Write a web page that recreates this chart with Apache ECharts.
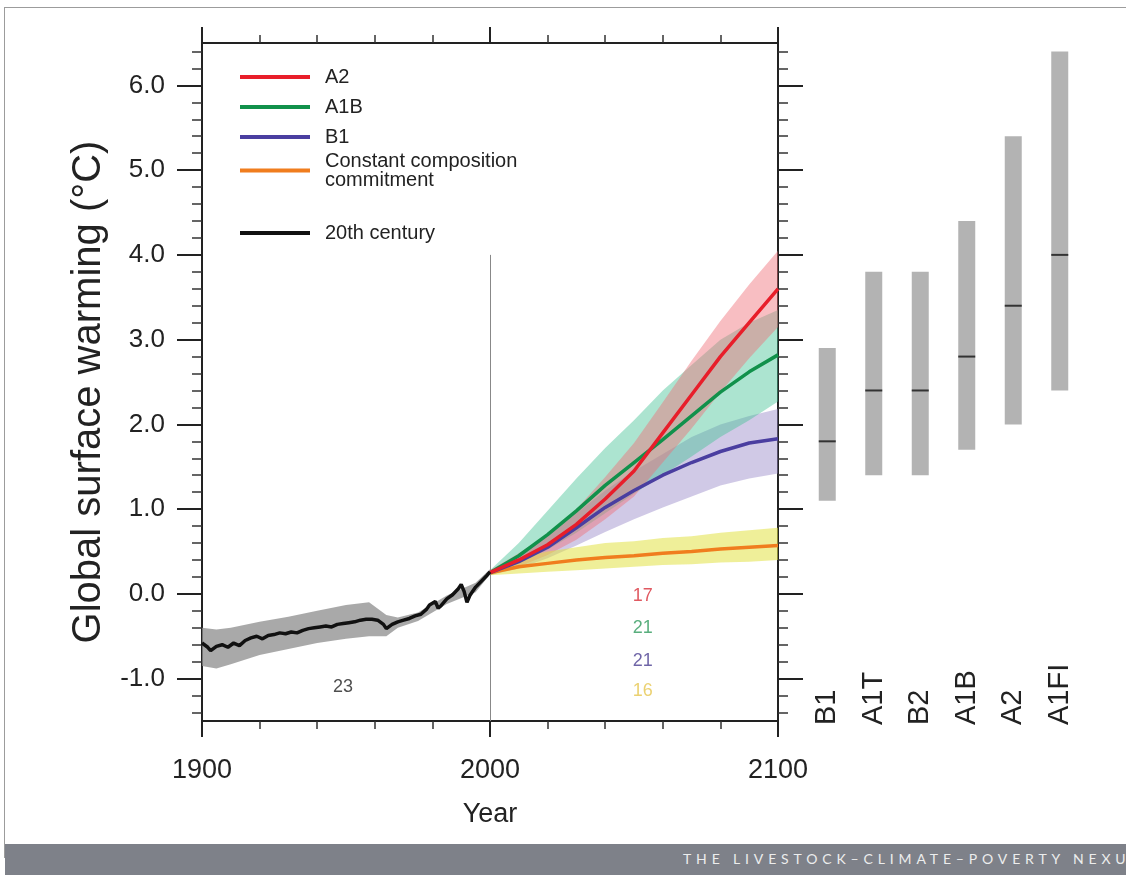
<!DOCTYPE html>
<html>
<head>
<meta charset="utf-8">
<title>Global surface warming</title>
<script src="https://cdn.jsdelivr.net/npm/echarts@6/dist/echarts.min.js"></script>
<style>
  html, body { margin: 0; padding: 0; background: #fff; }
  #page { position: relative; width: 1126px; height: 875px; overflow: hidden; }
  #frame { position: absolute; left: 4px; top: 7px; width: 1140px; height: 850px; border-left: 1px solid #9c9c9c; border-top: 1px solid #9c9c9c; }
  #main { position: absolute; left: 0; top: 0; width: 1126px; height: 875px; }
  #banner { position: absolute; left: 5px; top: 844px; width: 1121px; height: 31px; background: #7e8189; color: #eceded; font: 14px Lato, sans-serif; letter-spacing: 4.85px; white-space: nowrap; overflow: hidden; }
  #banner span { position: absolute; left: 678px; top: 6px; }
</style>
</head>
<body>
<div id="page">
  <div id="frame"></div>
  <div id="banner"><span>THE LIVESTOCK–CLIMATE–POVERTY NEXUS</span></div>
  <div id="main"></div>
</div>
<script>
// 20th century (observed-model) warming
const histYears = [1900, 1902, 1903, 1905, 1907, 1909, 1911, 1913, 1915, 1917, 1919, 1921, 1923, 1925, 1927, 1929,
  1931, 1933, 1935, 1937, 1939, 1941, 1943, 1945, 1947, 1949, 1951, 1953, 1955, 1957, 1959, 1961, 1963, 1964,
  1966, 1968, 1970, 1972, 1974, 1976, 1978, 1979, 1981, 1982, 1983, 1985, 1987, 1989, 1990, 1991, 1992, 1993,
  1995, 1997, 1999, 2000];
const histValues = [-0.58, -0.63, -0.67, -0.62, -0.60, -0.63, -0.58, -0.61, -0.55, -0.52, -0.50, -0.53, -0.49, -0.48, -0.46, -0.47,
  -0.45, -0.46, -0.43, -0.41, -0.40, -0.39, -0.38, -0.39, -0.36, -0.35, -0.34, -0.33, -0.31, -0.30, -0.30, -0.31, -0.36, -0.41,
  -0.36, -0.33, -0.31, -0.29, -0.26, -0.24, -0.18, -0.13, -0.09, -0.17, -0.14, -0.06, -0.01, 0.06, 0.11, 0.03, -0.10, -0.02,
  0.08, 0.15, 0.22, 0.26];
const histBandYears = [1900, 1905, 1910, 1920, 1930, 1940, 1950, 1958, 1964, 1968, 1975, 1985, 1995, 2000];
const histBandLow = [-0.85, -0.88, -0.83, -0.72, -0.65, -0.58, -0.53, -0.50, -0.50, -0.40, -0.32, -0.12, 0.02, 0.23];
const histBandHigh = [-0.40, -0.42, -0.40, -0.33, -0.27, -0.20, -0.13, -0.10, -0.25, -0.28, -0.22, -0.02, 0.13, 0.29];

// projections 2000-2100
const projYears = [2000, 2010, 2020, 2030, 2040, 2050, 2060, 2070, 2080, 2090, 2100];
const a2Mean = [0.25, 0.40, 0.58, 0.82, 1.12, 1.45, 1.90, 2.35, 2.80, 3.20, 3.60];
const a2Low = [0.22, 0.32, 0.46, 0.64, 0.88, 1.15, 1.55, 1.95, 2.38, 2.78, 3.15];
const a2High = [0.28, 0.48, 0.70, 1.00, 1.38, 1.78, 2.26, 2.75, 3.22, 3.65, 4.05];
const a1bMean = [0.25, 0.45, 0.70, 0.98, 1.28, 1.55, 1.82, 2.10, 2.38, 2.62, 2.82];
const a1bLow = [0.22, 0.36, 0.52, 0.72, 0.95, 1.18, 1.40, 1.62, 1.85, 2.05, 2.27];
const a1bHigh = [0.28, 0.60, 0.98, 1.36, 1.72, 2.05, 2.40, 2.70, 3.00, 3.20, 3.35];
const b1Mean = [0.25, 0.38, 0.55, 0.78, 1.02, 1.22, 1.40, 1.55, 1.68, 1.78, 1.83];
const b1Low = [0.22, 0.30, 0.42, 0.57, 0.73, 0.88, 1.02, 1.15, 1.28, 1.36, 1.42];
const b1High = [0.28, 0.46, 0.68, 0.95, 1.22, 1.45, 1.65, 1.85, 2.00, 2.10, 2.18];
const ccMean = [0.25, 0.32, 0.36, 0.40, 0.43, 0.45, 0.48, 0.50, 0.53, 0.55, 0.57];
const ccLow = [0.22, 0.24, 0.26, 0.28, 0.30, 0.32, 0.34, 0.35, 0.37, 0.38, 0.40];
const ccHigh = [0.28, 0.42, 0.50, 0.55, 0.60, 0.62, 0.66, 0.68, 0.72, 0.75, 0.78];

// likely ranges at 2090-2099 per scenario
const scenarios = ['B1', 'A1T', 'B2', 'A1B', 'A2', 'A1FI'];
const rangeLow = [1.1, 1.4, 1.4, 1.7, 2.0, 2.4];
const rangeHigh = [2.9, 3.8, 3.8, 4.4, 5.4, 6.4];
const rangeBest = [1.8, 2.4, 2.4, 2.8, 3.4, 4.0];

// model counts
const noteLabels = ['23', '17', '21', '21', '16'];
const noteYears = [1949, 2053, 2053, 2053, 2053];
const noteValues = [-1.10, -0.02, -0.40, -0.79, -1.15];

const yMajorTicks = [-1, 0, 1, 2, 3, 4, 5, 6];
const yMinorTicks = [];
for (let t = -14; t <= 64; t += 2) {
  if (t % 10 !== 0) yMinorTicks.push(t / 10);
}

const FONT = "'Liberation Sans', Arial, sans-serif";
const INK = '#222';
const CC = 'Constant composition commitment';
const noteColors = ['#222', '#d8303a', '#2f9a5c', '#4b3f91', '#e6c64e'];

const chart = echarts.init(document.getElementById('main'));

function pairs(xs, ys) {
  return xs.map((x, i) => [x, ys[i]]);
}

function band(name, xs, low, high, color, z) {
  return {
    name,
    type: 'custom',
    xAxisIndex: 0,
    yAxisIndex: 0,
    silent: true,
    z,
    data: [[xs[0], low[0]]],
    renderItem(params, api) {
      const pts = xs.map((x, i) => api.coord([x, high[i]]));
      for (let i = xs.length - 1; i >= 0; i--) pts.push(api.coord([xs[i], low[i]]));
      return { type: 'polygon', shape: { points: pts }, style: { fill: color } };
    }
  };
}

function line(name, xs, ys, color, z) {
  return {
    name,
    type: 'line',
    xAxisIndex: 0,
    yAxisIndex: 0,
    data: pairs(xs, ys),
    symbol: 'none',
    showSymbol: false,
    silent: true,
    z,
    lineStyle: { color, width: 3.5 },
    itemStyle: { color }
  };
}

const yBase = { type: 'value', gridIndex: 0, min: -1.5, max: 6.5, splitLine: { show: false } };
const xBase = { type: 'value', gridIndex: 0, min: 1900, max: 2100, interval: 100, splitLine: { show: false } };
const axisLine = { show: true, onZero: false, lineStyle: { color: INK, width: 2 } };
const majorTick = { show: true, lineStyle: { color: INK, width: 2 } };
const minorStyle = { color: '#333', width: 1.5 };

const legendBase = {
  orient: 'vertical',
  left: 235,
  itemWidth: 70,
  itemHeight: 4,
  itemGap: 10,
  icon: 'rect',
  selectedMode: false,
  textStyle: { fontSize: 20, lineHeight: 20, color: INK, fontFamily: FONT, padding: [0, 0, 0, 10] }
};

const option = {
  animation: false,
  grid: [
    { left: 202, right: 348, top: 43, bottom: 154, outerBoundsMode: 'none' },
    { left: 804, right: 43, top: 43, bottom: 154, outerBoundsMode: 'none' }
  ],
  legend: [
    { ...legendBase, top: 62, data: ['A2', 'A1B', 'B1'] },
    {
      ...legendBase, top: 137, data: [CC],
      formatter: () => 'Constant composition\ncommitment',
      textStyle: { ...legendBase.textStyle, lineHeight: 19, padding: [19, 0, 0, 10] }
    },
    { ...legendBase, top: 218, data: ['20th century'] }
  ],
  xAxis: [
    {
      ...xBase, position: 'bottom', axisLine,
      axisTick: { ...majorTick, length: 16 },
      minorTick: { show: true, splitNumber: 5, length: 8, lineStyle: minorStyle },
      axisLabel: { margin: 36, fontSize: 27, color: INK, fontFamily: FONT, formatter: v => String(v) },
      name: 'Year', nameLocation: 'middle', nameGap: 80,
      nameTextStyle: { fontSize: 27, color: INK, fontFamily: FONT }
    },
    {
      ...xBase, position: 'top', axisLine,
      axisTick: { ...majorTick, length: 16 },
      minorTick: { show: true, splitNumber: 5, length: 8, lineStyle: minorStyle },
      axisLabel: { show: false }
    },
    {
      type: 'category', gridIndex: 1, data: scenarios,
      axisLine: { show: false }, axisTick: { show: false },
      axisLabel: { inside: true, rotate: 90, margin: -4, fontSize: 29, color: INK, fontFamily: FONT }
    }
  ],
  yAxis: [
    {
      ...yBase, position: 'left', axisLine,
      axisTick: { ...majorTick, length: 25, customValues: yMajorTicks },
      axisLabel: { customValues: yMajorTicks, formatter: v => Number(v).toFixed(1), margin: 37, fontSize: 26, color: INK, fontFamily: FONT },
      name: 'Global surface warming (°C)', nameLocation: 'middle', nameGap: 93,
      nameTextStyle: { fontSize: 40, color: INK, fontFamily: FONT, padding: [0, 20, 0, 0] }
    },
    {
      ...yBase, position: 'left', axisLine: { show: false },
      axisTick: { show: true, length: 10, customValues: yMinorTicks, lineStyle: minorStyle },
      axisLabel: { show: false }
    },
    {
      ...yBase, position: 'right', axisLine,
      axisTick: { ...majorTick, length: 25, customValues: yMajorTicks },
      axisLabel: { show: false }
    },
    {
      ...yBase, position: 'right', axisLine: { show: false },
      axisTick: { show: true, length: 10, customValues: yMinorTicks, lineStyle: minorStyle },
      axisLabel: { show: false }
    },
    { type: 'value', gridIndex: 1, min: -1.5, max: 6.5, show: false }
  ],
  series: [
    band('hist band', histBandYears, histBandLow, histBandHigh, 'rgba(140,140,140,0.75)', 1),
    band('B1 band', projYears, b1Low, b1High, 'rgba(150,135,200,0.45)', 1),
    band('A1B band', projYears, a1bLow, a1bHigh, 'rgba(70,195,150,0.45)', 1),
    band('A2 band', projYears, a2Low, a2High, 'rgba(240,110,120,0.45)', 1),
    band('CC band', projYears, ccLow, ccHigh, 'rgba(225,225,70,0.55)', 1),
    {
      ...line('20th century', histYears, histValues, '#111', 6),
      markLine: {
        silent: true, symbol: 'none', label: { show: false },
        lineStyle: { color: '#888', width: 1, type: 'solid' },
        data: [[{ coord: [2000, -1.5] }, { coord: [2000, 4.0] }]]
      }
    },
    line(CC, projYears, ccMean, '#f07d1e', 3),
    line('B1', projYears, b1Mean, '#4a3ea0', 4),
    line('A1B', projYears, a1bMean, '#11914b', 4),
    line('A2', projYears, a2Mean, '#e81e2a', 5),
    {
      type: 'scatter', xAxisIndex: 0, yAxisIndex: 0, silent: true, z: 7,
      symbolSize: 1, itemStyle: { color: 'transparent' },
      data: noteLabels.map((t, i) => ({
        value: [noteYears[i], noteValues[i]],
        label: { show: true, position: 'inside', formatter: t, color: noteColors[i], fontSize: 18, fontFamily: FONT }
      }))
    },
    {
      type: 'custom', xAxisIndex: 2, yAxisIndex: 4, silent: true,
      data: scenarios.map((s, i) => [i, rangeLow[i], rangeHigh[i], rangeBest[i]]),
      encode: { x: 0, y: [1, 2, 3] },
      renderItem(params, api) {
        const lo = api.coord([api.value(0), api.value(1)]);
        const hi = api.coord([api.value(0), api.value(2)]);
        const md = api.coord([api.value(0), api.value(3)]);
        const w = 17;
        return {
          type: 'group',
          children: [
            { type: 'rect', shape: { x: lo[0] - w / 2, y: hi[1], width: w, height: lo[1] - hi[1] }, style: { fill: '#b3b3b3' } },
            { type: 'line', shape: { x1: lo[0] - w / 2, y1: md[1], x2: lo[0] + w / 2, y2: md[1] }, style: { stroke: '#333', lineWidth: 2 } }
          ]
        };
      }
    }
  ]
};

chart.setOption(option);
</script>
</body>
</html>
